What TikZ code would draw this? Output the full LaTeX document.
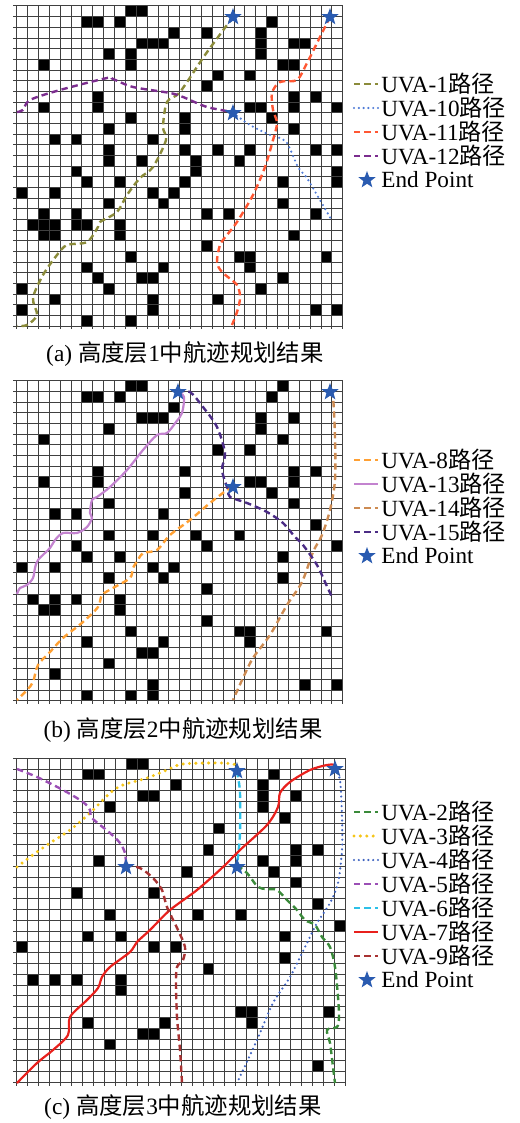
\documentclass[tikz,border=0pt]{standalone}
\usepackage{fontspec}
\setmainfont{Liberation Serif}
\newfontfamily\cjk{Noto Sans CJK SC}
\usetikzlibrary{shapes.geometric}

\definecolor{endblue}{HTML}{2A5BB0}
\definecolor{uvaone}{HTML}{8B8B3A}
\definecolor{uvaten}{HTML}{4F7BD6}
\definecolor{uvaeleven}{HTML}{FF5733}
\definecolor{uvatwelve}{HTML}{7B2D8E}
\definecolor{uvaeight}{HTML}{FFA033}
\definecolor{uvathirteen}{HTML}{C383CF}
\definecolor{uvafourteen}{HTML}{CD8B52}
\definecolor{uvafifteen}{HTML}{4B2C85}
\definecolor{uvatwo}{HTML}{3A8A3A}
\definecolor{uvathree}{HTML}{F5C518}
\definecolor{uvafour}{HTML}{3F63C0}
\definecolor{uvafive}{HTML}{9B4FB5}
\definecolor{uvasix}{HTML}{2CC0E8}
\definecolor{uvaseven}{HTML}{E8201C}
\definecolor{uvanine}{HTML}{A83232}

% one 30x30 map: #1 = cell size, #2 = top edge (px), #3 = blocked cells col/row
\newcommand{\uavmap}[3][x=5.435pt, y=-5.335pt]{%
  \begin{scope}[shift={(16.7,#2)}, #1]
    \foreach \c/\r in {#3} \fill (\c,\r) rectangle ++(1,1);
    \foreach \i in {0,...,30} {
      \draw[gridline] (\i,0) -- (\i,30.3);
      \draw[gridline] (-0.3,\i) -- (30,\i);
    }
  \end{scope}}

\begin{document}
\begin{tikzpicture}[
  x=0.5pt, y=-0.5pt,
  gridline/.style={draw=black!75, line width=0.5pt},
  endpt/.style={star, star points=5, star point ratio=2.4,
    fill=endblue, inner sep=0pt, minimum size=9pt},
  legtext/.style={anchor=west, inner sep=0pt, font=\fontsize{11.6}{13}\selectfont},
  capt/.style={font=\fontsize{11.7}{13}\selectfont},
  dashpath/.style={line width=1.2pt, dash pattern=on 3.2pt off 2pt},
  dotpath/.style={line width=1.2pt, line cap=round, dash pattern=on 0pt off 2.4pt},
  bigdot/.style={line width=1.7pt, line cap=round, dash pattern=on 0pt off 3.2pt},
  solidpath/.style={line width=1.1pt}
]
\useasboundingbox (0,0) rectangle (519,1123);

%% (a) height layer 1
\uavmap{6}{10/0,11/0, 6/1,7/1,9/1,23/1, 14/2,17/2,22/2,
  11/3,12/3,13/3,22/3,25/3,26/3, 8/4,10/4,22/4, 2/5,10/5,24/5,25/5,
  18/6,21/6, 17/7, 7/8,25/8,27/8, 2/9,7/9,21/9,22/9,25/9,29/9,
  10/10,15/10,23/10, 8/11,15/11,25/11, 3/12,5/12,12/12,
  8/13,15/13,18/13,21/13,27/13,29/13, 8/14,11/14,16/14,20/14,
  5/15,16/15,29/15, 6/16,9/16,15/16,24/16,29/16, 0/17,3/17,12/17,14/17,
  8/18,13/18,24/18, 2/19,5/19,17/19,19/19,27/19,
  1/20,2/20,3/20,5/20,6/20,9/20, 2/21,3/21,9/21,25/21, 17/22,
  10/23,20/23,21/23,28/23, 6/24,13/24,21/24, 7/25,11/25,12/25,24/25,
  0/26,8/26,22/26, 3/27,12/27,18/27, 0/28,12/28,27/28,29/28, 6/29,10/29}

\draw[uvaone, dashpath] plot[smooth, tension=0.5] coordinates {(233,17) (205,55) (180,92)
  (167,102) (163,127) (166,140) (153,167) (140,178) (127,195) (117,212) (100,222)
  (98,227) (87,242) (67,245) (57,255) (43,275) (33,298) (37,315) (27,325) (17,326)};
\draw[uvaten, dotpath] plot[smooth, tension=0.5] coordinates {(233,113) (250,125) (270,135)
  (277,137) (287,143) (298,167) (307,178) (317,195) (331,219)};
\draw[uvaeleven, dashpath] plot[smooth, tension=0.5] coordinates {(330,17) (320,37) (307,63)
  (297,80) (280,82) (272,93) (273,110) (277,123) (273,140) (265,167) (253,195)
  (237,222) (227,235) (220,245) (217,262) (222,272) (237,285) (240,298) (237,312) (232,325)};
\draw[uvatwelve, dashpath] plot[smooth, tension=0.5] coordinates {(17,112) (23,110) (30,100)
  (60,90) (107,78) (113,79) (133,87) (170,93) (183,97) (207,107) (233,112)};

\node[endpt] (a-end1) at (233,17) {};
\node[endpt] (a-end2) at (330,17) {};
\node[endpt] (a-end3) at (233,113) {};

\draw[uvaone, dashpath] (354,84) -- (378,84);
\node[legtext] (a-leg1) at (381,84) {UVA-1{\cjk 路径}};
\draw[uvaten, dotpath] (354,108) -- (378,108);
\node[legtext] (a-leg10) at (381,108) {UVA-10{\cjk 路径}};
\draw[uvaeleven, dashpath] (354,132) -- (378,132);
\node[legtext] (a-leg11) at (381,132) {UVA-11{\cjk 路径}};
\draw[uvatwelve, dashpath] (354,156) -- (378,156);
\node[legtext] (a-leg12) at (381,156) {UVA-12{\cjk 路径}};
\node[endpt] (a-legstar) at (367,180) {};
\node[legtext] (a-legend) at (381,180) {End Point};

\node[capt] (a-cap) at (185,354) {(a) {\cjk 高度层}1{\cjk 中航迹规划结果}};

%% (b) height layer 2
\uavmap{380.7}{10/0,11/0,24/0, 6/1,7/1,9/1,23/1, 14/2,
  11/3,12/3,13/3,22/3,25/3, 8/4,22/4, 2/5,24/5, 18/6,21/6,
  7/8,15/8,25/8,27/8, 2/9,7/9,21/9,22/9,25/9, 15/10,23/10, 8/11,25/11,
  3/12,5/12,13/12, 27/13, 8/14,12/14,16/14,20/14, 5/15,17/15,29/15,
  6/16,9/16,24/16, 0/17,3/17,12/17,14/17, 8/18,13/18,24/18, 17/19,
  1/20,3/20,5/20,9/20, 2/21,3/21,9/21, 17/22, 10/23,20/23,21/23,28/23,
  6/24,13/24,21/24, 11/25,12/25, 8/26, 3/27, 12/28,26/28,29/28, 6/29,10/29,12/29}

\draw[uvathirteen, solidpath] plot[smooth, tension=0.5] coordinates {(178,392) (184,397)
  (182,413) (176,422) (167,433) (157,435) (143,450) (127,470) (110,487) (97,497)
  (92,500) (90,513) (92,518) (87,527) (77,533) (63,533) (55,540) (50,548) (38,560)
  (35,568) (33,578) (27,585) (20,588) (17,594)};
\draw[uvaeight, dashpath] plot[smooth, tension=0.5] coordinates {(233,487) (227,490) (210,503)
  (190,520) (170,535) (157,550) (143,553) (138,560) (133,568) (130,578) (113,588)
  (102,595) (98,607) (83,622) (63,638) (50,652) (38,665) (33,682) (27,690) (17,700)};
\draw[uvafourteen, dashpath] plot[smooth, tension=0.5] coordinates {(330,392) (333,397)
  (335,437) (335,480) (330,510) (322,535) (313,552) (302,582) (287,605) (270,635)
  (253,658) (243,678) (233,700)};
\draw[uvafifteen, dashpath] plot[smooth, tension=0.5] coordinates {(178,392) (190,392)
  (203,407) (217,427) (225,453) (222,470) (228,490) (230,497) (247,503) (267,512)
  (283,523) (295,537) (303,545) (317,565) (325,582) (332,597)};

\node[endpt] (b-end1) at (178,392) {};
\node[endpt] (b-end2) at (330,392) {};
\node[endpt] (b-end3) at (233,487) {};

\draw[uvaeight, dashpath] (354,460) -- (378,460);
\node[legtext] (b-leg8) at (381,460) {UVA-8{\cjk 路径}};
\draw[uvathirteen, solidpath] (354,484) -- (378,484);
\node[legtext] (b-leg13) at (381,484) {UVA-13{\cjk 路径}};
\draw[uvafourteen, dashpath] (354,508) -- (378,508);
\node[legtext] (b-leg14) at (381,508) {UVA-14{\cjk 路径}};
\draw[uvafifteen, dashpath] (354,532) -- (378,532);
\node[legtext] (b-leg15) at (381,532) {UVA-15{\cjk 路径}};
\node[endpt] (b-legstar) at (367,556) {};
\node[legtext] (b-legend) at (381,556) {End Point};

\node[capt] (b-cap) at (183,730) {(b) {\cjk 高度层}2{\cjk 中航迹规划结果}};

%% (c) height layer 3
\uavmap[x=5.48pt, y=-5.4pt]{758.3}{10/0,11/0, 6/1,7/1,23/1, 14/2,22/2,
  11/3,12/3,22/3,25/3, 8/4,22/4, 24/5, 18/6, 17/8,25/8,27/8, 7/9,22/9,25/9,
  15/10,23/10, 25/11, 5/12,12/12, 27/13, 8/14,16/14,20/14, 29/15,
  6/16,9/16,24/16, 0/17,12/17,14/17, 24/18, 17/19, 1/20,3/20,5/20,9/20,
  9/21, 20/23,21/23,28/23, 6/24,13/24,21/24, 11/25,12/25, 8/26, 27/28}

\draw[uvatwo, dashpath] plot[smooth, tension=0.5] coordinates {(237,865) (247,873)
  (258,887) (267,889) (277,890) (287,900) (297,910) (305,920) (315,925) (322,937)
  (330,947) (335,967) (338,997) (339,1017) (337,1027) (327,1030) (330,1043)
  (333,1067) (335,1083)};
\draw[uvathree, bigdot] plot[smooth, tension=0.5] coordinates {(17,867) (30,857)
  (50,843) (70,830) (90,813) (110,793) (123,785) (147,778) (167,770) (183,764)
  (223,763) (237,765)};
\draw[uvafour, dotpath] plot[smooth, tension=0.5] coordinates {(335,769) (340,780)
  (342,817) (342,850) (338,883) (330,903) (317,923) (307,943) (290,977) (273,1003)
  (257,1040) (237,1083)};
\draw[uvafive, dashpath] plot[smooth, tension=0.5] coordinates {(17,769) (37,777)
  (63,790) (83,802) (90,810) (92,818) (110,833) (120,843) (125,853) (126,865)};
\draw[uvasix, dashpath] plot[smooth, tension=0.5] coordinates {(237,771) (238,777)
  (240,793) (240,833) (238,857) (237,865)};
\draw[uvaseven, solidpath] plot[smooth, tension=0.5] coordinates {(17,1083) (37,1063)
  (53,1050) (68,1035) (70,1017) (87,1000) (98,988) (102,977) (110,967) (130,952)
  (137,942) (150,930) (170,910) (197,890) (223,867) (240,850) (267,825) (278,807)
  (280,793) (290,782) (310,770) (327,765) (335,765) (335,769)};
\draw[uvanine, dashpath] plot[smooth, tension=0.5] coordinates {(126,865) (140,868)
  (153,878) (162,890) (167,907) (178,930) (185,947) (183,960) (177,967) (176,983)
  (177,1017) (180,1050) (182,1083)};

\node[endpt] (c-end1) at (237,771) {};
\node[endpt] (c-end2) at (335,769) {};
\node[endpt] (c-end3) at (126,867) {};
\node[endpt] (c-end4) at (237,867) {};

\draw[uvatwo, dashpath] (354,812) -- (378,812);
\node[legtext] (c-leg2) at (381,812) {UVA-2{\cjk 路径}};
\draw[uvathree, bigdot] (354,836) -- (378,836);
\node[legtext] (c-leg3) at (381,836) {UVA-3{\cjk 路径}};
\draw[uvafour, dotpath] (354,860) -- (378,860);
\node[legtext] (c-leg4) at (381,860) {UVA-4{\cjk 路径}};
\draw[uvafive, dashpath] (354,884) -- (378,884);
\node[legtext] (c-leg5) at (381,884) {UVA-5{\cjk 路径}};
\draw[uvasix, dashpath] (354,908) -- (378,908);
\node[legtext] (c-leg6) at (381,908) {UVA-6{\cjk 路径}};
\draw[uvaseven, solidpath] (354,932) -- (378,932);
\node[legtext] (c-leg7) at (381,932) {UVA-7{\cjk 路径}};
\draw[uvanine, dashpath] (354,956) -- (378,956);
\node[legtext] (c-leg9) at (381,956) {UVA-9{\cjk 路径}};
\node[endpt] (c-legstar) at (367,980) {};
\node[legtext] (c-legend) at (381,980) {End Point};

\node[capt] (c-cap) at (183,1107) {(c) {\cjk 高度层}3{\cjk 中航迹规划结果}};
\end{tikzpicture}
\end{document}
